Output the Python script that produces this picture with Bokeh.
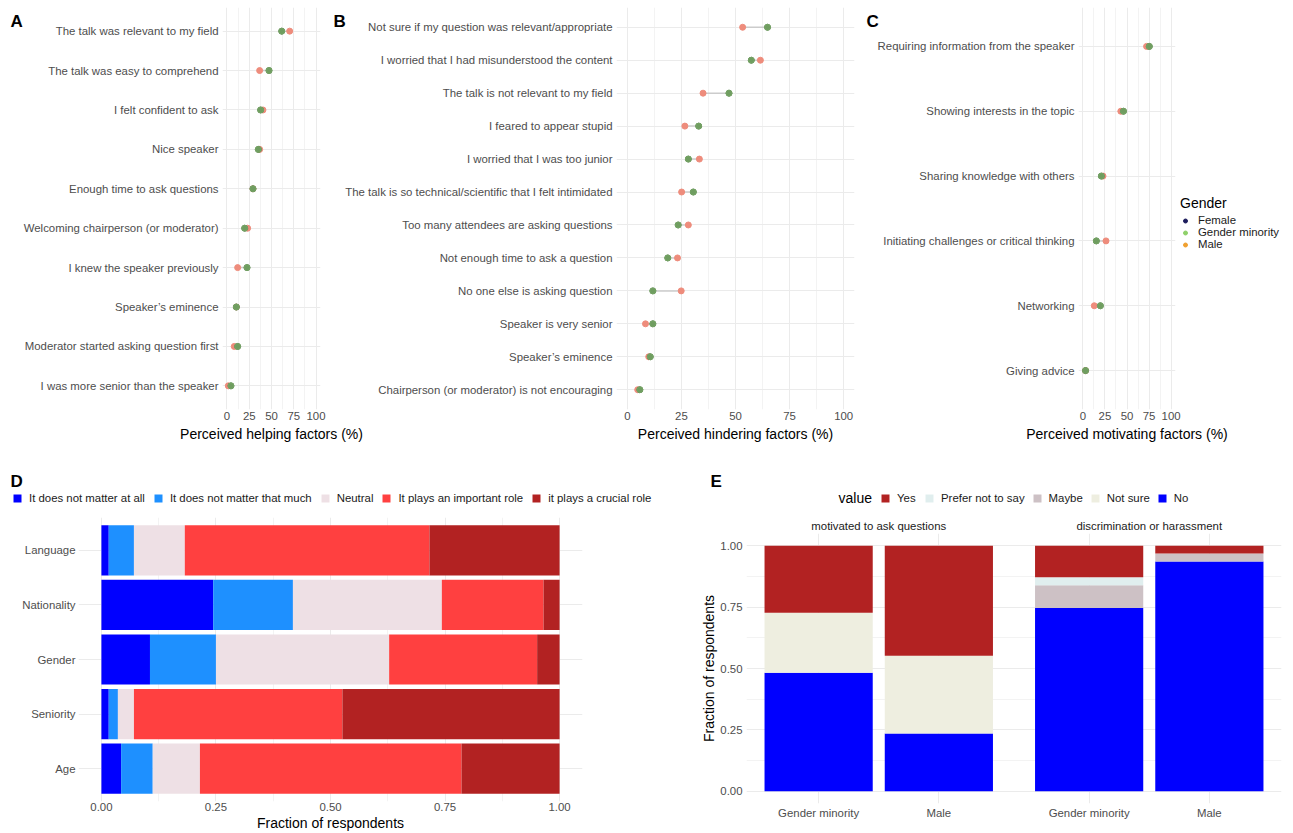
from bokeh.plotting import figure
from bokeh.models import (ColumnDataSource, Range1d, FixedTicker, Label, LinearAxis,
                          NumeralTickFormatter)
from bokeh.layouts import row, column
from bokeh.embed import file_html
from bokeh.resources import INLINE

FONT = "Liberation Sans"
TICK_COLOR = "#4d4d4d"
TICK_SIZE = "11.4px"
TITLE_SIZE = "14px"
GRID = "#ebebeb"
MINOR = "#f3f3f3"
NAN = float("nan")

# ---------------- Panel A : helping factors (%) ----------------
helping_factors = [
    "The talk was relevant to my field",
    "The talk was easy to comprehend",
    "I felt confident to ask",
    "Nice speaker",
    "Enough time to ask questions",
    "Welcoming chairperson (or moderator)",
    "I knew the speaker previously",
    "Speaker\u2019s eminence",
    "Moderator started asking question first",
    "I was more senior than the speaker",
]
helping_female = [61.5, 47.2, 37.8, 35.2, 29.2, 19.9, 22.5, 10.5, 12.0, 4.5]
helping_gm = [61.5, 47.2, 37.8, 35.2, 29.2, 19.9, 22.5, 10.5, 12.0, 4.5]
helping_male = [70.4, 36.7, 40.4, 36.7, 29.2, 23.2, 12.0, 10.5, 8.2, 1.5]

# ---------------- Panel B : hindering factors (%) ----------------
hindering_factors = [
    "Not sure if my question was relevant/appropriate",
    "I worried that I had misunderstood the content",
    "The talk is not relevant to my field",
    "I feared to appear stupid",
    "I worried that I was too junior",
    "The talk is so technical/scientific that I felt intimidated",
    "Too many attendees are asking questions",
    "Not enough time to ask a question",
    "No one else is asking question",
    "Speaker is very senior",
    "Speaker\u2019s eminence",
    "Chairperson (or moderator) is not encouraging",
]
hindering_female = [64.8, 57.3, 47.0, 33.0, 28.2, 30.5, 23.5, 18.7, 11.8, 11.8, 10.6, 5.8]
hindering_gm = [64.8, 57.3, 47.0, 33.0, 28.2, 30.5, 23.5, 18.7, 11.8, 11.8, 10.6, 5.8]
hindering_male = [53.3, 61.5, 35.0, 26.6, 33.3, 25.1, 28.2, 23.2, 24.9, 8.4, 9.9, 4.8]

# ---------------- Panel C : motivating factors (%) ----------------
motivating_factors = [
    "Requiring information from the speaker",
    "Showing interests in the topic",
    "Sharing knowledge with others",
    "Initiating challenges or critical thinking",
    "Networking",
    "Giving advice",
]
motivating_female = [75.3, 46.0, 20.9, 15.2, 19.8, 3.0]
motivating_gm = [75.3, 46.0, 20.9, 15.2, 19.8, 3.0]
motivating_male = [72.2, 43.0, 22.8, 26.2, 12.9, 3.0]

gender_labels = ["Female", "Gender minority", "Male"]
gender_legend_colors = ["#1c1c5c", "#8fd16a", "#f0a030"]
DOT_FEMALE = "#557f4e"
DOT_GM = "#7aaa68"
DOT_MALE = "#ee8c7c"

# ---------------- Panel D ----------------
d_categories = ["Language", "Nationality", "Gender", "Seniority", "Age"]
d_levels = ["It does not matter at all", "It does not matter that much", "Neutral",
            "It plays an important role", "it plays a crucial role"]
d_not_at_all = [0.016, 0.244, 0.106, 0.016, 0.043]
d_not_much = [0.055, 0.174, 0.144, 0.020, 0.069]
d_neutral = [0.111, 0.325, 0.378, 0.035, 0.103]
d_important = [0.534, 0.222, 0.323, 0.455, 0.571]
d_crucial = [0.284, 0.035, 0.049, 0.474, 0.214]
d_colors = ["#0000FF", "#1E90FF", "#EEE0E5", "#FF4040", "#B22222"]

# ---------------- Panel E ----------------
e_groups = ["Gender minority", "Male"]
e_facets = ["motivated to ask questions", "discrimination or harassment"]
e_stack_levels = ["No", "Not sure", "Maybe", "Prefer not to say", "Yes"]  # bottom -> top
e_stack_colors = ["#0000FF", "#EEEEE0", "#CDC1C5", "#E0EEEE", "#B22222"]
# motivated to ask questions (Gender minority, Male)
mot_no = [0.483, 0.235]
mot_notsure = [0.244, 0.317]
mot_maybe = [0.0, 0.0]
mot_prefer = [0.0, 0.0]
mot_yes = [0.273, 0.448]
# discrimination or harassment (Gender minority, Male)
dis_no = [0.746, 0.936]
dis_notsure = [0.0, 0.0]
dis_maybe = [0.093, 0.033]
dis_prefer = [0.033, 0.0]
dis_yes = [0.128, 0.031]


def style(p):
    p.outline_line_color = None
    for ax in p.axis:
        ax.axis_line_color = None
        ax.major_tick_line_color = None
        ax.minor_tick_line_color = None
        ax.major_tick_out = 0
        ax.major_tick_in = 0
        ax.minor_tick_out = 0
        ax.minor_tick_in = 0
        ax.major_label_text_font = FONT
        ax.major_label_text_font_size = TICK_SIZE
        ax.major_label_text_color = TICK_COLOR
        ax.axis_label_text_font = FONT
        ax.axis_label_text_font_size = TITLE_SIZE
        ax.axis_label_text_font_style = "normal"
        ax.axis_label_text_color = "#000000"
        ax.major_label_standoff = 3
        ax.axis_label_standoff = 3
    p.grid.grid_line_color = GRID
    p.grid.grid_line_width = 1


def text_label(p, text, x, y, side=None, size="17px", bold=True, baseline="top"):
    lab = Label(x=x, y=y, x_units="canvas", y_units="canvas", text=text,
                text_font=FONT, text_font_style="bold" if bold else "normal",
                text_font_size=size, text_baseline=baseline,
                text_align="left", text_color="#000000")
    if side is None:
        p.add_layout(lab)
    else:
        p.add_layout(lab, side)


def style_legend(leg):
    leg.background_fill_alpha = 0
    leg.border_line_color = None
    leg.padding = 0
    leg.margin = 0
    leg.label_text_font = FONT
    leg.label_text_font_size = TICK_SIZE
    leg.label_text_color = "#1a1a1a"
    leg.title_text_font = FONT
    leg.title_text_font_size = TITLE_SIZE
    leg.title_text_font_style = "normal"
    leg.title_text_color = "#000000"


def blank(width, height):
    p = figure(width=width, height=height, x_range=Range1d(0, 1), y_range=Range1d(0, 1),
               output_backend="svg", toolbar_location=None, x_axis_location=None,
               y_axis_location=None, min_border_left=0, min_border_right=0,
               min_border_top=0, min_border_bottom=0)
    p.outline_line_color = None
    p.grid.visible = False
    return p


def dumbbell(labels, female, gm, male, xlabel, width, left, right):
    n = len(labels)
    pos = list(range(n, 0, -1))
    p = figure(width=width, height=448, x_range=Range1d(-5, 105),
               y_range=Range1d(0.4, n + 0.6), output_backend="svg",
               toolbar_location=None, min_border_left=left, min_border_right=right,
               min_border_top=7, min_border_bottom=39)
    src = ColumnDataSource(dict(pos=pos, female=female, gm=gm, male=male))
    p.segment(x0="gm", x1="male", y0="pos", y1="pos", source=src,
              line_color="#cccccc", line_width=1.5)
    p.scatter("male", "pos", source=src, size=6, color=DOT_MALE)
    p.scatter("female", "pos", source=src, size=6, color=DOT_FEMALE)
    p.scatter("gm", "pos", source=src, size=6, color=DOT_GM, alpha=0.7)
    p.yaxis.ticker = FixedTicker(ticks=pos)
    p.yaxis.major_label_overrides = {q: lab for q, lab in zip(pos, labels)}
    p.xaxis.ticker = FixedTicker(ticks=[0, 25, 50, 75, 100],
                                 minor_ticks=[12.5, 37.5, 62.5, 87.5])
    p.xaxis.axis_label = xlabel
    style(p)
    p.yaxis.major_label_standoff = 4
    p.xaxis.major_label_standoff = 2
    p.xgrid.minor_grid_line_color = MINOR
    return p


# A is wider than its slot so that its axis title is not cut; B overlaps it.
A_EXTRA = 45
pA = dumbbell(helping_factors, helping_female, helping_gm, helping_male,
              "Perceived helping factors (%)", 330 + A_EXTRA, 222, 10 + A_EXTRA)
text_label(pA, "A", 10, 11, "right")
pB = dumbbell(hindering_factors, hindering_female, hindering_gm, hindering_male,
              "Perceived hindering factors (%)", 530, 285, 6)
pB.border_fill_alpha = 0
pB.styles = {"margin-left": f"-{A_EXTRA}px"}
text_label(pB, "B", 3, 11, "left")
pC = dumbbell(motivating_factors, motivating_female, motivating_gm, motivating_male,
              "Perceived motivating factors (%)", 433, 218, 118)
text_label(pC, "C", 6, 11, "left")

# legend of C drawn in a transparent strip laid over the right margin of C
# (its frame is aligned with C's frame: 7 px top, 39 px bottom)
C_LEG_W = 118
pCL = blank(C_LEG_W, 448)
pCL.background_fill_color = None
pCL.border_fill_color = None
pCL.styles = {"margin-left": f"-{C_LEG_W}px"}
for lab, col in zip(gender_labels, gender_legend_colors):
    pCL.scatter(x=[NAN], y=[NAN], size=6, color=col, legend_label=lab)
legC = pCL.legend[0]
style_legend(legC)
legC.glyph_width = 10
legC.glyph_height = 11
legC.label_height = 11
legC.label_standoff = 8
legC.spacing = -2
legC.title = "Gender"
legC.title_standoff = 3
legC.location = (5, 159)

# ---------------- Panel D ----------------
pDL = blank(680, 68)
for lab, col in zip(d_levels, d_colors):
    pDL.vbar(x=[NAN], top=[NAN], width=0.1, fill_color=col, line_color=None,
             legend_label=lab)
legD = pDL.legend[0]
style_legend(legD)
legD.orientation = "horizontal"
legD.glyph_width = 10
legD.glyph_height = 10
legD.label_standoff = 7
legD.spacing = 8
legD.location = (12, 12)
text_label(pDL, "D", 10, 23)

d_pos = list(range(len(d_categories), 0, -1))
srcD = ColumnDataSource(dict(pos=d_pos, a=d_not_at_all, b=d_not_much, c=d_neutral,
                             d=d_important, e=d_crucial))
pD = figure(width=680, height=317, x_range=Range1d(-0.05, 1.05),
            y_range=Range1d(0.4, len(d_categories) + 0.6), output_backend="svg",
            toolbar_location=None, min_border_left=78, min_border_right=98,
            min_border_top=1, min_border_bottom=30)
pD.hbar_stack(["a", "b", "c", "d", "e"], y="pos", height=0.92, source=srcD,
              fill_color=d_colors, line_color=None)
pD.yaxis.ticker = FixedTicker(ticks=d_pos)
pD.yaxis.major_label_overrides = {q: lab for q, lab in zip(d_pos, d_categories)}
pD.xaxis.ticker = FixedTicker(ticks=[0, 0.25, 0.5, 0.75, 1.0],
                              minor_ticks=[0.125, 0.375, 0.625, 0.875])
pD.xaxis.formatter = NumeralTickFormatter(format="0.00")
pD.xaxis.axis_label = "Fraction of respondents"
style(pD)
pD.xaxis.major_label_standoff = 1
pD.xaxis.axis_label_standoff = 1
pD.xgrid.minor_grid_line_color = MINOR

# ---------------- Panel E (two facets) ----------------
e_legend_order = list(reversed(e_stack_levels))
e_legend_colors = list(reversed(e_stack_colors))
pEL = blank(613, 68)
for lab, col in zip(e_legend_order, e_legend_colors):
    pEL.vbar(x=[NAN], top=[NAN], width=0.1, fill_color=col, line_color=None,
             legend_label=lab)
legE = pEL.legend[0]
style_legend(legE)
legE.orientation = "horizontal"
legE.glyph_width = 10
legE.glyph_height = 10
legE.label_standoff = 7
legE.spacing = 7
legE.location = (200, 12)
text_label(pEL, "E", 30, 23)
text_label(pEL, "value", 158, 49, size=TITLE_SIZE, bold=False, baseline="middle")

FACET_SHIFT = 2.25
e_x = [g + 1 + f * FACET_SHIFT for f in range(2) for g in range(len(e_groups))]
e_tick_labels = [e_groups[g] for f in range(2) for g in range(len(e_groups))]
srcE = ColumnDataSource(dict(
    x=e_x,
    No=mot_no + dis_no,
    NotSure=mot_notsure + dis_notsure,
    Maybe=mot_maybe + dis_maybe,
    Prefer=mot_prefer + dis_prefer,
    Yes=mot_yes + dis_yes,
))
pE = figure(width=613, height=317, x_range=Range1d(0.4, 2.6 + FACET_SHIFT),
            y_range=Range1d(-0.05, 1.05), output_backend="svg",
            toolbar_location=None, min_border_left=66, min_border_right=12,
            min_border_top=17, min_border_bottom=30)
pE.vbar_stack(["No", "NotSure", "Maybe", "Prefer", "Yes"], x="x", width=0.9,
              source=srcE, line_color=None, fill_color=e_stack_colors)
pE.xaxis.ticker = FixedTicker(ticks=e_x)
pE.xaxis.major_label_overrides = {q: lab for q, lab in zip(e_x, e_tick_labels)}
pE.yaxis.ticker = FixedTicker(ticks=[0, 0.25, 0.5, 0.75, 1.0],
                              minor_ticks=[0.125, 0.375, 0.625, 0.875])
pE.yaxis.formatter = NumeralTickFormatter(format="0.00")
pE.yaxis.axis_label = "Fraction of respondents"
facet_centers = [1.5 + f * FACET_SHIFT for f in range(2)]
strip = LinearAxis(ticker=FixedTicker(ticks=facet_centers),
                   major_label_overrides={q: lab for q, lab in zip(facet_centers, e_facets)})
pE.add_layout(strip, "above")
style(pE)
strip.major_label_text_color = "#1a1a1a"
strip.major_label_standoff = 0
pE.xaxis[0].major_label_standoff = 2
pE.yaxis.major_label_standoff = 4
pE.yaxis.axis_label_standoff = 0
pE.ygrid.minor_grid_line_color = MINOR

layout = column(row(pA, pB, pC, pCL),
                row(pDL, pEL),
                row(column(pD), column(pE)))

open("out.html", "w").write(file_html(layout, INLINE))
